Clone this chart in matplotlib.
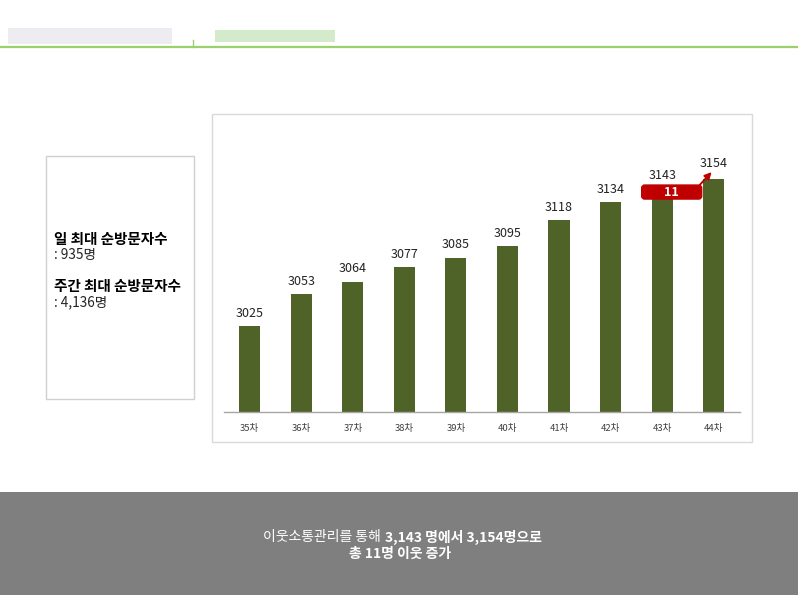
import matplotlib.pyplot as plt
from matplotlib.patches import Rectangle, FancyBboxPatch

plt.rcParams['font.family'] = ['Noto Sans CJK KR', 'DejaVu Sans']

# data
rounds = ['35차', '36차', '37차', '38차', '39차', '40차', '41차', '42차', '43차', '44차']
neighbors = [3025, 3053, 3064, 3077, 3085, 3095, 3118, 3134, 3143, 3154]
side_title_1 = '일 최대 순방문자수'
side_value_1 = ': 935명'
side_title_2 = '주간 최대 순방문자수'
side_value_2 = ': 4,136명'

W, H = 798, 595
BAR = '#4F6228'
RED = '#C00000'


def fx(x):
    return x / W


def fy(y):
    return 1 - y / H


fig = plt.figure(figsize=(W / 100, H / 100), dpi=100)
fig.patch.set_facecolor('white')

# header (blurred title area)
fig.patches.append(Rectangle((fx(8), fy(44)), fx(164), 16 / H, transform=fig.transFigure,
                             facecolor='#EDEDF1', edgecolor='none'))
fig.patches.append(Rectangle((fx(215), fy(42)), fx(120), 12 / H, transform=fig.transFigure,
                             facecolor='#D3EACB', edgecolor='none'))
fig.add_artist(plt.Line2D([0, 1], [fy(46.5), fy(46.5)], color='#9BD16B', lw=1.6,
                          transform=fig.transFigure))
fig.add_artist(plt.Line2D([fx(193), fx(193)], [fy(40), fy(47)], color='#9BD16B', lw=1,
                          transform=fig.transFigure))

# left info box
fig.patches.append(Rectangle((fx(46), fy(399)), fx(148), 243 / H, transform=fig.transFigure,
                             facecolor='white', edgecolor='#D0D0D0', lw=1))
fig.text(fx(54), fy(239), side_title_1, fontsize=10.5, fontweight='bold', va='center', color='black')
fig.text(fx(54), fy(255), side_value_1, fontsize=9.8, va='center', color='#222222')
fig.text(fx(54), fy(286), side_title_2, fontsize=10.5, fontweight='bold', va='center', color='black')
fig.text(fx(54), fy(302), side_value_2, fontsize=9.8, va='center', color='#222222')

# chart box
fig.patches.append(Rectangle((fx(211.5), fy(441.5)), fx(540), 327.5 / H, transform=fig.transFigure,
                             facecolor='white', edgecolor='#D9D9D9', lw=1))

# bar chart
y_min, y_max = 2950, 3190
px_per_unit = 1.1426
ax_top = 412 - (y_max - y_min) * px_per_unit
ax = fig.add_axes([fx(223.9), fy(412), fx(739.5 - 223.9), (412 - ax_top) / H])
ax.set_zorder(5)
ax.set_facecolor('none')
x = list(range(len(rounds)))
ax.bar(x, neighbors, width=0.41, color=BAR, bottom=0)
ax.set_xlim(-0.5, len(rounds) - 0.5)
ax.set_ylim(y_min, y_max)
i_prev, i_last = len(rounds) - 2, len(rounds) - 1
for xi, v in zip(x, neighbors):
    off = 4.5 if xi < i_prev else 6.5
    ax.annotate(str(v), (xi, v), xytext=(0, off), textcoords='offset points',
                ha='center', va='bottom', fontsize=9, color='#222222')
for s in ['top', 'right', 'left']:
    ax.spines[s].set_visible(False)
ax.spines['bottom'].set_color('#A6A6A6')
ax.spines['bottom'].set_linewidth(1)
ax.set_yticks([])
ax.set_xticks(x)
ax.set_xticklabels(rounds, fontsize=6.8, color='#404040')
ax.tick_params(axis='x', length=0, pad=8.5)

# difference callout
diff = neighbors[i_last] - neighbors[i_prev]
units_x = 1 / 51.56
units_y = 1 / px_per_unit
box_w, box_h = 60 * units_x, 14 * units_y
cx, cy = i_prev + 0.185, neighbors[i_prev] - 0.5
box = FancyBboxPatch((cx - box_w / 2, cy - box_h / 2), box_w, box_h,
                     boxstyle='round,pad=0,rounding_size=%f' % (3 * units_x),
                     mutation_aspect=units_y / units_x,
                     facecolor=RED, edgecolor=RED, clip_on=False, zorder=3)
ax.add_patch(box)
ax.text(cx, cy, str(diff), ha='center', va='center', fontsize=9, fontweight='bold',
        color='white', zorder=4)
ax.annotate('', xy=(i_last - 0.04, neighbors[i_last] + 6),
            xytext=(cx + box_w / 2 - 0.04, cy + box_h / 2),
            arrowprops=dict(arrowstyle='-|>', color=RED, lw=1.4, mutation_scale=10,
                            shrinkA=0, shrinkB=0),
            annotation_clip=False, zorder=4)

# bottom summary band
fig.patches.append(Rectangle((0, 0), 1, fy(492), transform=fig.transFigure,
                             facecolor='#7F7F7F', edgecolor='none'))
fig.text(fx(381), fy(537), '이웃소통관리를 통해', fontsize=10, color='white', ha='right', va='center')
fig.text(fx(385), fy(537), '3,143 명에서 3,154명으로', fontsize=10, fontweight='bold',
         color='white', ha='left', va='center')
fig.text(fx(400), fy(554), '총 11명 이웃 증가', fontsize=10, fontweight='bold',
         color='white', ha='center', va='center')

fig.savefig('out.png', dpi=100)
